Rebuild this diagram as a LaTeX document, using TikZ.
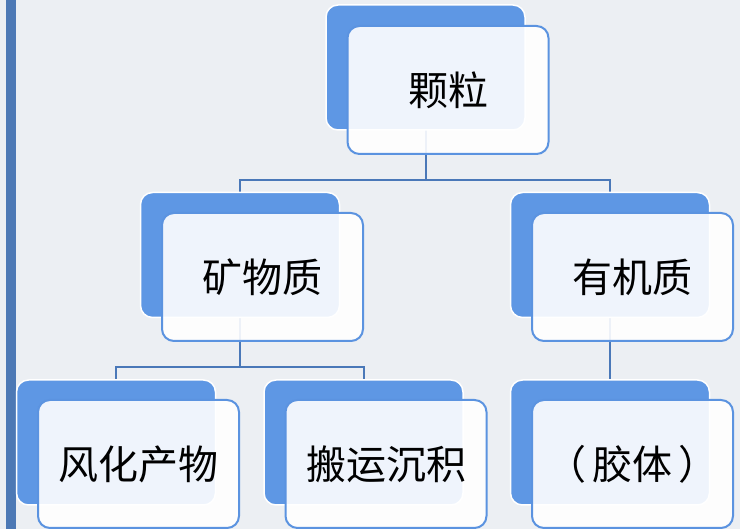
\documentclass[tikz,border=0pt]{standalone}
\usepackage{fontspec}
\newfontfamily\cjk{Noto Sans CJK SC}
\usetikzlibrary{calc}
\pgfdeclarelayer{bg}
\pgfdeclarelayer{edges}
\pgfsetlayers{bg,edges,main}
\definecolor{bgcol}{HTML}{ECEFF3}
\definecolor{barcol}{HTML}{4D79B5}
\definecolor{backblue}{HTML}{5E97E4}
\definecolor{frontline}{HTML}{5B93E0}
\definecolor{linkcol}{HTML}{4A78B8}
\tikzset{
  backbox/.style={rectangle, rounded corners=12pt, fill=backblue, draw=white, line width=1.5pt,
    minimum width=199pt, minimum height=125pt, inner sep=0pt},
  frontbox/.style={rectangle, rounded corners=12pt, fill=white, fill opacity=0.9, text opacity=1,
    draw=frontline, draw opacity=1, line width=2pt, minimum width=201pt, minimum height=128pt,
    inner sep=0pt, font=\cjk\fontsize{40pt}{44pt}\selectfont, text=black},
  link/.style={draw=linkcol, line width=2pt}
}
\begin{document}
\begin{tikzpicture}[x=1pt,y=-1pt]
\useasboundingbox (0,0) rectangle (740,529);
\begin{pgfonlayer}{bg}
\fill[bgcol] (0,0) rectangle (740,529);
\fill[barcol] (6,0) rectangle (16,529);
\end{pgfonlayer}
% back boxes
\node[backbox] (kb) at (425.5,67.5) {};
\node[backbox] (wb) at (240,255) {};
\node[backbox] (yb) at (610,255) {};
\node[backbox] (fb) at (116,442.5) {};
\node[backbox] (bb) at (363.5,442.5) {};
\node[backbox] (jb) at (610,442.5) {};
% front boxes
\node[frontbox] (k) at (448,90) {颗粒};
\node[frontbox] (w) at (262.5,277) {矿物质};
\node[frontbox] (y) at (632.5,277) {有机质};
\node[frontbox] (f) at (138.5,464) {风化产物};
\node[frontbox] (b) at (386,464) {搬运沉积};
\node[frontbox] (j) at (632.5,464) {（\hspace{6pt}胶体\hspace{6pt}）};
% connectors
\coordinate (bus1) at (0,180);
\coordinate (bus2) at (0,367);
\begin{pgfonlayer}{edges}
\draw[link] (kb.center) -- (kb.center |- bus1);
\draw[link] (wb.north) -- (wb.north |- bus1) -- (yb.north |- bus1) -- (yb.north);
\draw[link] (wb.center) -- (wb.center |- bus2);
\draw[link] (fb.north) -- (fb.north |- bus2) -- (bb.north |- bus2) -- (bb.north);
\draw[link] (yb.center) -- (jb.north);
\end{pgfonlayer}
\end{tikzpicture}
\end{document}
